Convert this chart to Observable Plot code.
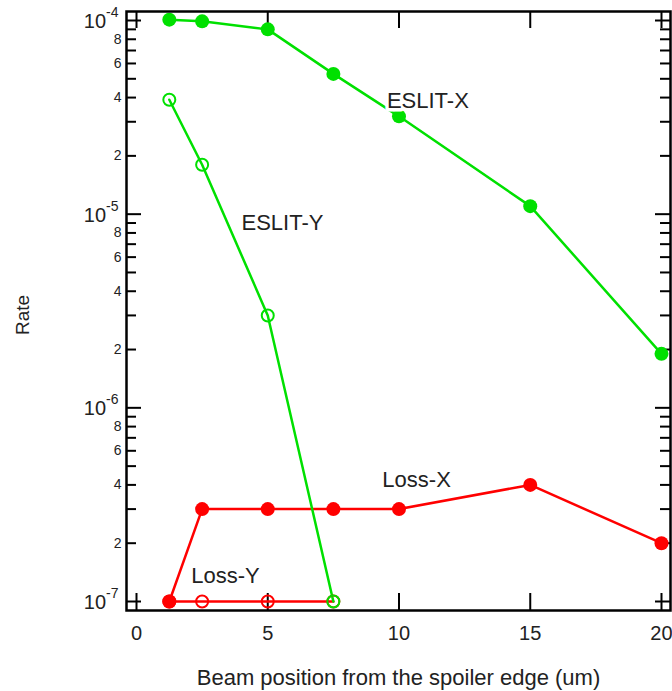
<!DOCTYPE html>
<html><head><meta charset="utf-8">
<script src="https://cdn.jsdelivr.net/npm/d3@7"></script>
<script src="https://cdn.jsdelivr.net/npm/@observablehq/plot@0.6"></script>
<style>
body{margin:0;background:#fff;}
#chart svg{font-family:"Liberation Sans",Arial,Helvetica,sans-serif;}
</style>
</head><body><div id="chart"></div>
<script>
// ---- data ----
const positions = [1.25, 2.5, 5, 7.5, 10, 15, 20];
const eslitX = [1.01e-4, 0.99e-4, 0.90e-4, 5.3e-5, 3.2e-5, 1.1e-5, 1.9e-6];
const lossX = [1.0e-7, 3.0e-7, 3.0e-7, 3.0e-7, 3.0e-7, 4.0e-7, 2.0e-7];
const positionsY = [1.25, 2.5, 5, 7.5];
const eslitY = [3.9e-5, 1.8e-5, 3.0e-6, 1.0e-7];
const lossY = [1.0e-7, 1.0e-7, 1.0e-7, 1.0e-7];
const labelNames = ["ESLIT-X", "ESLIT-Y", "Loss-X", "Loss-Y"];
const labelX = [11.1, 5.56, 10.67, 3.39];
const labelY = [3.86e-5, 9.06e-6, 4.22e-7, 1.36e-7];
const xTicks = [0, 5, 10, 15, 20];
const decades = [1e-7, 1e-6, 1e-5, 1e-4];
const minorMultipliers = [2, 3, 4, 5, 6, 7, 8, 9];
const labeledMultipliers = [2, 4, 6, 8];
const xTitle = "Beam position from the spoiler edge (um)";
const yTitle = "Rate";

// ---- derived tables ----
const tEX = positions.map((x, i) => ({x, y: eslitX[i]}));
const tLX = positions.map((x, i) => ({x, y: lossX[i]}));
const tEY = positionsY.map((x, i) => ({x, y: eslitY[i]}));
const tLY = positionsY.map((x, i) => ({x, y: lossY[i]}));
const tLab = labelNames.map((t, i) => ({t, x: labelX[i], y: labelY[i]}));
const minorTicks = decades.slice(0, 3).flatMap(d => minorMultipliers.map(m => d * m));
const minorLabeled = decades.slice(0, 3).flatMap(d => labeledMultipliers.map(m => d * m));

const green = "#00e000", red = "#ff0000";
const W = 672, H = 691, mt = 11, mb = 81, ml = 126, mr = 2;
const fw = W - ml - mr, fh = H - mt - mb;
const fmtDecade = d => "10^" + Math.round(Math.log10(d));
const fmtMinor = d => String(Math.round(d / Math.pow(10, Math.floor(Math.log10(d) + 1e-9))));

const chart = Plot.plot({
  width: W, height: H,
  marginTop: mt, marginBottom: mb, marginLeft: ml, marginRight: mr,
  x: {domain: [-0.381, 20.343], axis: null},
  y: {type: "log", domain: [8.985e-8, 1.113e-4], axis: null},
  marks: [
    // inward ticks
    Plot.tickX(xTicks, {x: d => d, insetTop: fh - 17, stroke: "black", strokeWidth: 2}),
    Plot.tickX(xTicks, {x: d => d, insetBottom: fh - 17, stroke: "black", strokeWidth: 2}),
    Plot.tickY(decades, {y: d => d, insetRight: fw - 15, stroke: "black", strokeWidth: 2}),
    Plot.tickY(decades, {y: d => d, insetLeft: fw - 15, stroke: "black", strokeWidth: 2}),
    Plot.tickY(minorTicks, {y: d => d, insetRight: fw - 10, stroke: "black", strokeWidth: 2}),
    Plot.tickY(minorTicks, {y: d => d, insetLeft: fw - 10, stroke: "black", strokeWidth: 2}),
    // tick labels
    Plot.text(xTicks, {x: d => d, text: d => String(d), frameAnchor: "bottom", dy: 23, lineAnchor: "middle", fontSize: 20, fill: "#222"}),
    Plot.text(decades, {y: d => d, text: fmtDecade, frameAnchor: "left", dx: -8, dy: 1, textAnchor: "end", lineAnchor: "middle", fontSize: 20, fill: "#222", className: "dec"}),
    Plot.text(minorLabeled, {y: d => d, text: fmtMinor, frameAnchor: "left", dx: -5, textAnchor: "end", lineAnchor: "middle", fontSize: 14, fill: "#222"}),
    // data
    Plot.line(tLX, {x: "x", y: "y", stroke: red, strokeWidth: 2.5}),
    Plot.line(tLY, {x: "x", y: "y", stroke: red, strokeWidth: 2.5}),
    Plot.line(tEX, {x: "x", y: "y", stroke: green, strokeWidth: 2.5}),
    Plot.line(tEY, {x: "x", y: "y", stroke: green, strokeWidth: 2.5}),
    Plot.dot(tLY, {x: "x", y: "y", r: 6, fill: "none", stroke: red, strokeWidth: 2}),
    Plot.dot(tLX, {x: "x", y: "y", r: 7, fill: red, stroke: "none"}),
    Plot.dot(tEY, {x: "x", y: "y", r: 6, fill: "none", stroke: green, strokeWidth: 2}),
    Plot.dot(tEX, {x: "x", y: "y", r: 7, fill: green, stroke: "none"}),
    // series labels
    Plot.text(tLab, {x: "x", y: "y", text: "t", fontSize: 22, fill: "#222", stroke: "white", strokeWidth: 7, paintOrder: "stroke"}),
    // frame
    Plot.frame({stroke: "black", strokeWidth: 2.5}),
    // axis titles
    Plot.text([xTitle], {frameAnchor: "bottom", dy: 67, textAnchor: "middle", lineAnchor: "middle", fontSize: 22, fill: "#222"}),
    Plot.text([yTitle], {frameAnchor: "left", dx: -104, dy: 4, rotate: -90, textAnchor: "middle", lineAnchor: "middle", fontSize: 19, fill: "#222"})
  ]
});
// render exponents as superscripts
chart.querySelectorAll("g.dec text").forEach(t => {
  const parts = t.textContent.split("^");
  if (parts.length !== 2) return;
  t.textContent = parts[0];
  const ts = document.createElementNS("http://www.w3.org/2000/svg", "tspan");
  ts.setAttribute("dy", "-11");
  ts.setAttribute("font-size", "14");
  ts.textContent = parts[1];
  t.appendChild(ts);
});
document.getElementById("chart").appendChild(chart);
</script>
</body></html>
